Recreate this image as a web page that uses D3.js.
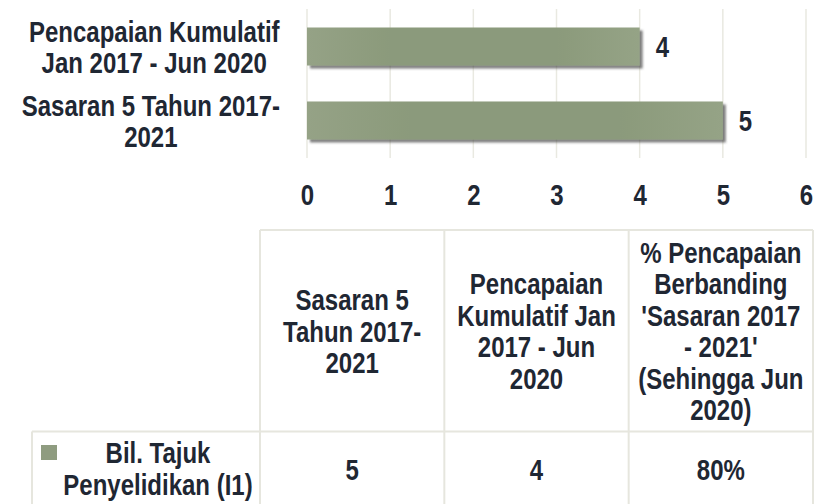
<!DOCTYPE html>
<html>
<head>
<meta charset="utf-8">
<script src="https://cdn.jsdelivr.net/npm/d3@7/dist/d3.min.js"></script>
<style>
  html, body { margin: 0; padding: 0; background: #ffffff; }
  svg { display: block; }
  text { font-family: "Liberation Sans", Arial, sans-serif; font-weight: bold; fill: #1f2733; }
</style>
</head>
<body>
<svg id="chart" width="821" height="504"></svg>
<script>
// ---- data ----
const categories = ["Pencapaian Kumulatif Jan 2017 - Jun 2020", "Sasaran 5 Tahun 2017-2021"];
const categoryLines = [["Pencapaian Kumulatif", "Jan 2017 - Jun 2020"], ["Sasaran 5 Tahun 2017-", "2021"]];
const values = [4, 5];
const xTicks = [0, 1, 2, 3, 4, 5, 6];
const seriesName = "Bil. Tajuk Penyelidikan (I1)";
const seriesLines = ["Bil. Tajuk", "Penyelidikan (I1)"];
const tableHeaders = ["Sasaran 5 Tahun 2017-2021", "Pencapaian Kumulatif Jan 2017 - Jun 2020", "% Pencapaian Berbanding 'Sasaran 2017 - 2021' (Sehingga Jun 2020)"];
const tableHeaderLines = [
  ["Sasaran 5", "Tahun 2017-", "2021"],
  ["Pencapaian", "Kumulatif Jan", "2017 - Jun", "2020"],
  ["% Pencapaian", "Berbanding", "'Sasaran 2017", "- 2021'", "(Sehingga Jun", "2020)"]
];
const tableValues = ["5", "4", "80%"];

// ---- layout ----
const svg = d3.select("#chart");
const fontSize = 30;
const sx = 0.8; // horizontal condensation (narrow face)
const lineH = 31.5;
const gridColor = "#e9e9e1";
const borderColor = "#e6e6de";

const x = d3.scaleLinear().domain([0, 6]).range([307, 806]);
const y = d3.scaleBand().domain(categories).range([9, 158]).paddingInner(0.486).paddingOuter(0.25);

function multiText(parent, cx, cy, lines, lh, size) {
  const g = parent.append("g").attr("transform", `translate(${cx},${cy}) scale(${sx},1)`);
  const t = g.append("text").attr("text-anchor", "middle").style("font-size", size + "px");
  lines.forEach((ln, j) => {
    t.append("tspan").attr("x", 0).attr("y", (j - (lines.length - 1) / 2) * lh).attr("dy", "0.36em").text(ln);
  });
  return { g, t };
}

const defs = svg.append("defs");
const grad = defs.append("linearGradient").attr("id", "barGrad").attr("x1", "0%").attr("x2", "100%").attr("y1", "0%").attr("y2", "0%");
grad.append("stop").attr("offset", "0%").attr("stop-color", "#95a286");
grad.append("stop").attr("offset", "25%").attr("stop-color", "#8b9a7b");
grad.append("stop").attr("offset", "75%").attr("stop-color", "#8b9a7b");
grad.append("stop").attr("offset", "100%").attr("stop-color", "#95a386");
const filt = defs.append("filter").attr("id", "shadow").attr("x", "-10%").attr("y", "-30%").attr("width", "130%").attr("height", "180%");
filt.append("feDropShadow").attr("dx", 3).attr("dy", 3).attr("stdDeviation", 1.3).attr("flood-color", "#404040").attr("flood-opacity", 0.65);

// gridlines
svg.append("g").selectAll("line").data(xTicks).join("line")
  .attr("x1", d => x(d)).attr("x2", d => x(d))
  .attr("y1", 9).attr("y2", 158)
  .attr("stroke", gridColor).attr("stroke-width", 1.5);

// x axis labels via d3 axis
const xAxis = svg.append("g").attr("transform", "translate(0,158)")
  .call(d3.axisBottom(x).tickValues(xTicks).tickFormat(d3.format("d")).tickSize(0).tickPadding(0));
xAxis.attr("font-family", null).attr("font-size", null);
xAxis.select(".domain").remove();
xAxis.selectAll("text").attr("dy", null).attr("y", 0)
  .attr("transform", `translate(0,47) scale(${sx},1)`)
  .style("font-size", fontSize + "px").attr("fill", null);

// bars
svg.append("g").selectAll("rect").data(values).join("rect")
  .attr("x", x(0))
  .attr("y", (d, i) => y(categories[i]))
  .attr("width", d => x(d) - x(0))
  .attr("height", y.bandwidth())
  .attr("fill", "url(#barGrad)")
  .attr("filter", "url(#shadow)");

// value labels
values.forEach((d, i) => {
  const g = svg.append("g").attr("transform", `translate(${x(d) + 16},${y(categories[i]) + y.bandwidth() / 2}) scale(${sx},1)`);
  g.append("text").attr("dy", "0.36em").style("font-size", fontSize + "px").text(d);
});

// category labels (block right-aligned at 280, lines centered)
categoryLines.forEach((lines, i) => {
  const cy = y(categories[i]) + y.bandwidth() / 2;
  const r = multiText(svg, 0, cy, lines, lineH, fontSize);
  const w = r.t.node().getBBox().width * sx;
  r.g.attr("transform", `translate(${280 - w / 2},${cy}) scale(${sx},1)`);
});

// ---- data table ----
const colX = d3.scaleBand().domain(d3.range(tableHeaders.length)).range([260, 813]);
const tableTop = 230, headerBottom = 431.5, tableBottom = 520, rowLeft = 32;
const tg = svg.append("g");
tg.append("line").attr("x1", 260).attr("x2", 813).attr("y1", tableTop).attr("y2", tableTop);
tg.append("line").attr("x1", rowLeft).attr("x2", 813).attr("y1", headerBottom).attr("y2", headerBottom);
tg.append("line").attr("x1", rowLeft).attr("x2", rowLeft).attr("y1", headerBottom).attr("y2", tableBottom);
tg.selectAll("line.v").data(d3.range(tableHeaders.length + 1)).join("line").attr("class", "v")
  .attr("x1", i => i < tableHeaders.length ? colX(i) : colX(i - 1) + colX.bandwidth())
  .attr("x2", i => i < tableHeaders.length ? colX(i) : colX(i - 1) + colX.bandwidth())
  .attr("y1", tableTop).attr("y2", tableBottom);
tg.selectAll("line").attr("stroke", borderColor).attr("stroke-width", 2);

const headerMid = (tableTop + headerBottom) / 2;
tableHeaderLines.forEach((lines, i) => {
  multiText(tg, colX(i) + colX.bandwidth() / 2, headerMid, lines, lineH, fontSize);
});

const rowMid = 468;
tableValues.forEach((d, i) => {
  multiText(tg, colX(i) + colX.bandwidth() / 2, rowMid + 1, [d], lineH, fontSize);
});

// legend swatch + series name
tg.append("rect").attr("x", 41).attr("y", 445).attr("width", 16).attr("height", 15).attr("fill", "#8f9c80");
multiText(tg, 158, rowMid, seriesLines, lineH, fontSize);
</script>
</body>
</html>
